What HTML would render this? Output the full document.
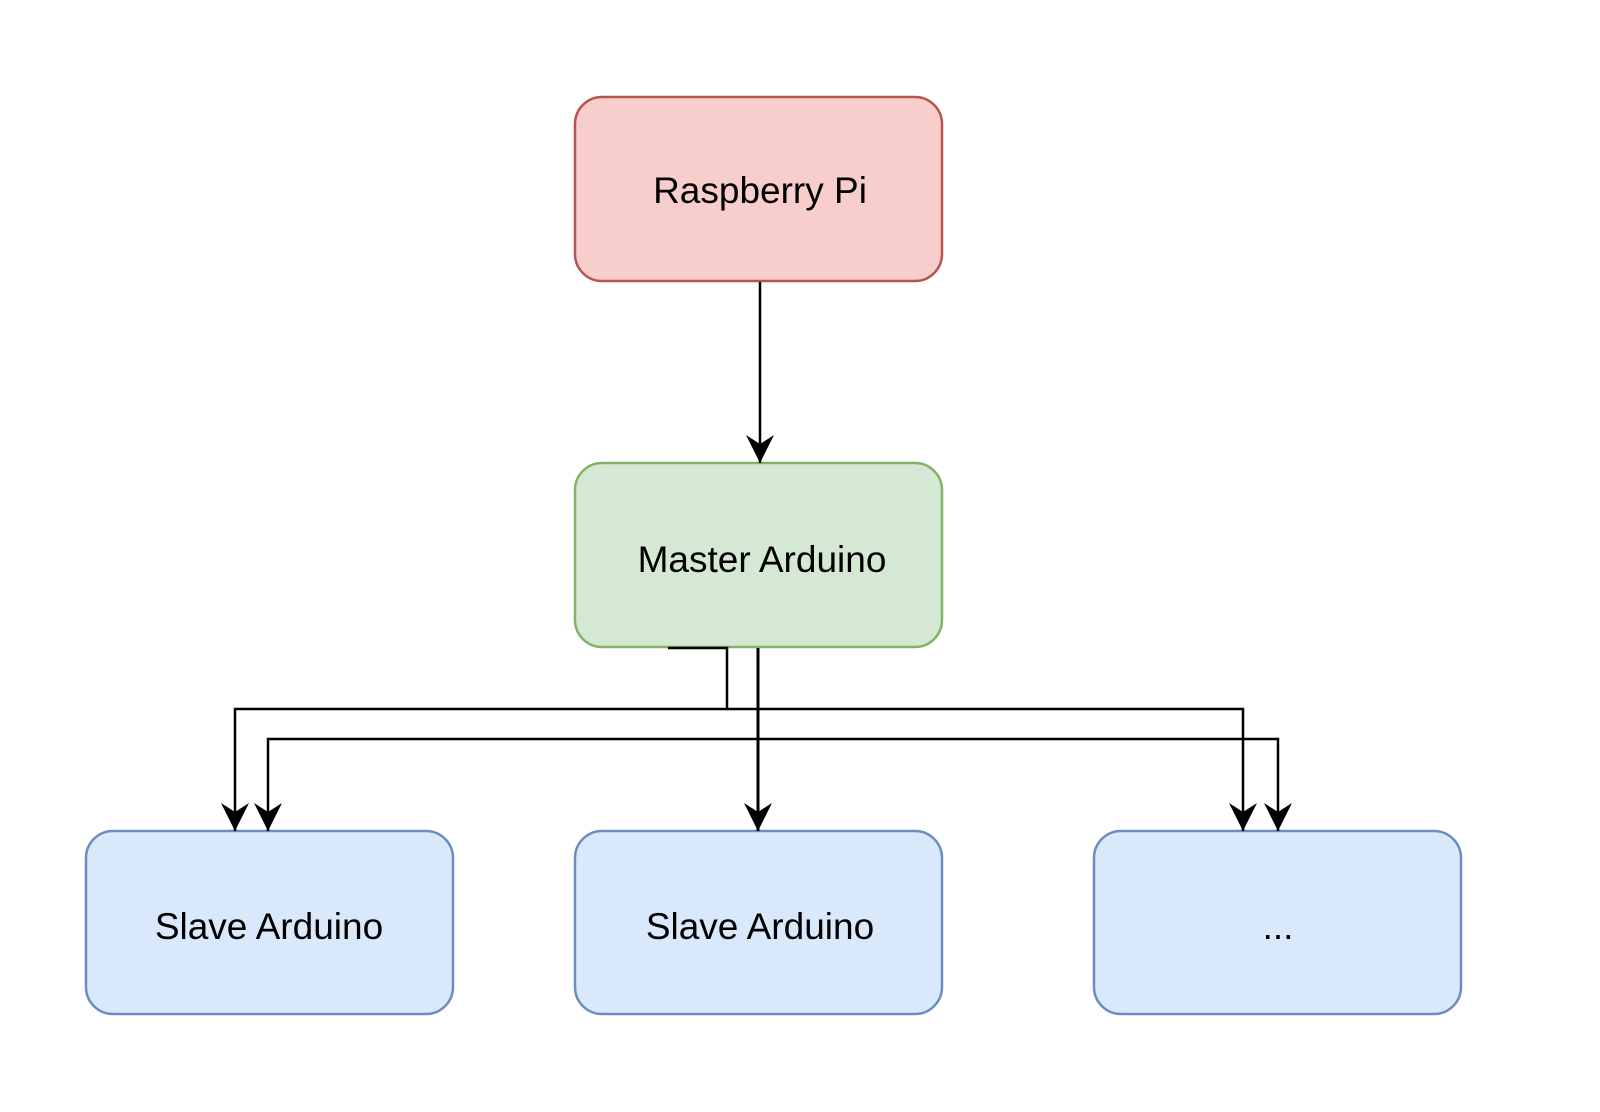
<!DOCTYPE html>
<html><head><style>
html,body{margin:0;padding:0;background:#fff;}
svg{display:block;}
text{font-family:"Liberation Sans",Arial,sans-serif;font-size:37px;fill:#000;}
</style></head><body>
<svg width="1600" height="1112" viewBox="0 0 1600 1112">
<defs>
<marker id="a" markerWidth="30" markerHeight="30" refX="15" refY="28" orient="0" markerUnits="userSpaceOnUse">
<path d="M1,0 L15,28 L29,0 L15,9 Z" fill="#000"/>
</marker>
</defs>
<rect x="575" y="97" width="367" height="184" rx="27" fill="#f8cecc" stroke="#b85450" stroke-width="2.5"/>
<text x="760" y="203" text-anchor="middle">Raspberry Pi</text>
<rect x="575" y="463" width="367" height="184" rx="27" fill="#d5e8d4" stroke="#82b366" stroke-width="2.5"/>
<text x="762" y="572" text-anchor="middle">Master Arduino</text>
<rect x="86" y="831" width="367" height="183" rx="27" fill="#dae8fc" stroke="#6c8ebf" stroke-width="2.5"/>
<text x="269" y="939" text-anchor="middle">Slave Arduino</text>
<rect x="575" y="831" width="367" height="183" rx="27" fill="#dae8fc" stroke="#6c8ebf" stroke-width="2.5"/>
<text x="760" y="939" text-anchor="middle">Slave Arduino</text>
<rect x="1094" y="831" width="367" height="183" rx="27" fill="#dae8fc" stroke="#6c8ebf" stroke-width="2.5"/>
<text x="1278" y="939" text-anchor="middle">...</text>
<g fill="none" stroke="#000" stroke-width="2.5">
<path d="M760 282 V463" marker-end="url(#a)"/>
<path d="M668 648 H727 V709 H235 V831" marker-end="url(#a)"/>
<path d="M727 709 H1243 V831" marker-end="url(#a)"/>
<path d="M758 648 V831" stroke-width="3" marker-end="url(#a)"/>
<path d="M758 739 H268 V831" marker-end="url(#a)"/>
<path d="M758 739 H1278 V831" marker-end="url(#a)"/>
</g>
</svg>
</body></html>
